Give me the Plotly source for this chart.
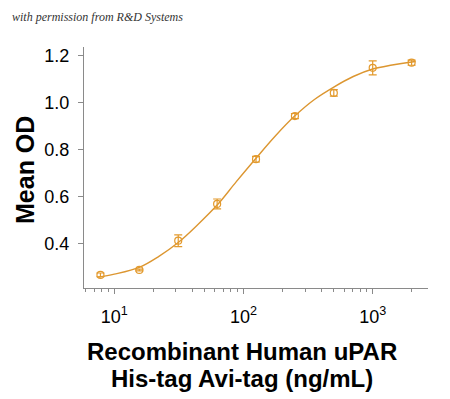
import plotly.graph_objects as go

# Measured points
conc = [7.8125, 15.625, 31.25, 62.5, 125, 250, 500, 1000, 2000]
mean_od = [0.265, 0.286, 0.411, 0.568, 0.759, 0.943, 1.042, 1.149, 1.171]
err_od = [0.008, 0.004, 0.025, 0.021, 0.012, 0.011, 0.014, 0.030, 0.011]

# Fitted curve
curve_x = [7.5, 10, 15.625, 22, 31.25, 44, 62.5, 88, 125, 177, 250, 354, 500, 707, 1000, 1414, 2000, 2150]
curve_y = [0.255, 0.268, 0.297, 0.343, 0.403, 0.478, 0.563, 0.663, 0.763, 0.859, 0.944, 1.014,
           1.067, 1.112, 1.144, 1.161, 1.174, 1.176]

x_tickvals = [10, 100, 1000]
x_ticktext = ["10<sup>1</sup>", "10<sup>2</sup>", "10<sup>3</sup>"]
x_minor = [6, 7, 8, 9, 20, 30, 40, 50, 60, 70, 80, 90, 200, 300, 400, 500, 600, 700, 800, 900, 2000]
y_tickvals = [0.4, 0.6, 0.8, 1.0, 1.2]
y_ticktext = ["0.4", "0.6", "0.8", "1.0", "1.2"]

x_title_lines = ["Recombinant Human uPAR", "His-tag Avi-tag (ng/mL)"]
y_title = "Mean OD"
watermark = "with permission from R&amp;D Systems"

orange = "#E39A2D"
grey = "#8a8a8a"

# The page puts the figure 8px in from the top-left corner
OFF = 8
W, H = 450 - OFF, 399 - OFF
PL, PR, PT, PB = 84 - OFF, 428 - OFF, 47 - OFF, 288 - OFF
PW, PH = PR - PL, PB - PT

def px_x(px):
    return (px - OFF - PL) / PW

def px_y(py):
    return (PB - (py - OFF)) / PH

fig = go.Figure()
fig.add_trace(go.Scatter(
    x=curve_x, y=curve_y, mode="lines", line=dict(color="#DC9630", width=1.4, shape="spline"),
    hoverinfo="skip", showlegend=False))
fig.add_trace(go.Scatter(
    x=conc, y=mean_od, mode="markers",
    marker=dict(symbol="circle-open", size=7, color=orange, line=dict(width=1.2, color=orange)),
    error_y=dict(type="data", array=err_od, visible=True, color=orange, thickness=1.2, width=4),
    showlegend=False))

annotations = [
    dict(text="<i>" + watermark + "</i>", xref="paper", yref="paper",
         x=px_x(10), y=px_y(17), xanchor="left", yanchor="middle", showarrow=False,
         font=dict(family="Liberation Serif, serif", size=12, color="#333333")),
    dict(text="<b>" + y_title + "</b>", xref="paper", yref="paper", textangle=-90,
         x=px_x(25), y=px_y(170), xanchor="center", yanchor="middle", showarrow=False,
         font=dict(size=25, color="black")),
]
for i, line in enumerate(x_title_lines):
    annotations.append(dict(
        text="<b>" + line + "</b>", xref="paper", yref="paper",
        x=px_x(241.5), y=px_y(351 + 27 * i), xanchor="center", yanchor="middle", showarrow=False,
        font=dict(size=24, color="black")))

fig.update_layout(
    width=W, height=H,
    margin=dict(l=PL, r=W - PR, t=PT, b=H - PB),
    paper_bgcolor="white", plot_bgcolor="white",
    font=dict(family="Liberation Sans, Arial, sans-serif", color="black"),
    xaxis=dict(
        type="log", range=[0.7655, 3.428],
        tickvals=x_tickvals, ticktext=x_ticktext,
        ticks="outside", ticklen=5, tickcolor=grey, tickwidth=1,
        showline=True, linecolor=grey, linewidth=1, showgrid=False, zeroline=False,
        tickfont=dict(size=18), ticklabelstandoff=7,
        minor=dict(tickvals=x_minor, ticks="outside", ticklen=3, tickcolor=grey, showgrid=False),
    ),
    yaxis=dict(
        range=[0.209, 1.238],
        tickvals=y_tickvals, ticktext=y_ticktext,
        ticks="outside", ticklen=5, tickcolor=grey, tickwidth=1,
        showline=True, linecolor=grey, linewidth=1, showgrid=False, zeroline=False,
        tickfont=dict(size=18), ticklabelstandoff=5,
    ),
    annotations=annotations,
)

fig.write_html("out.html")
